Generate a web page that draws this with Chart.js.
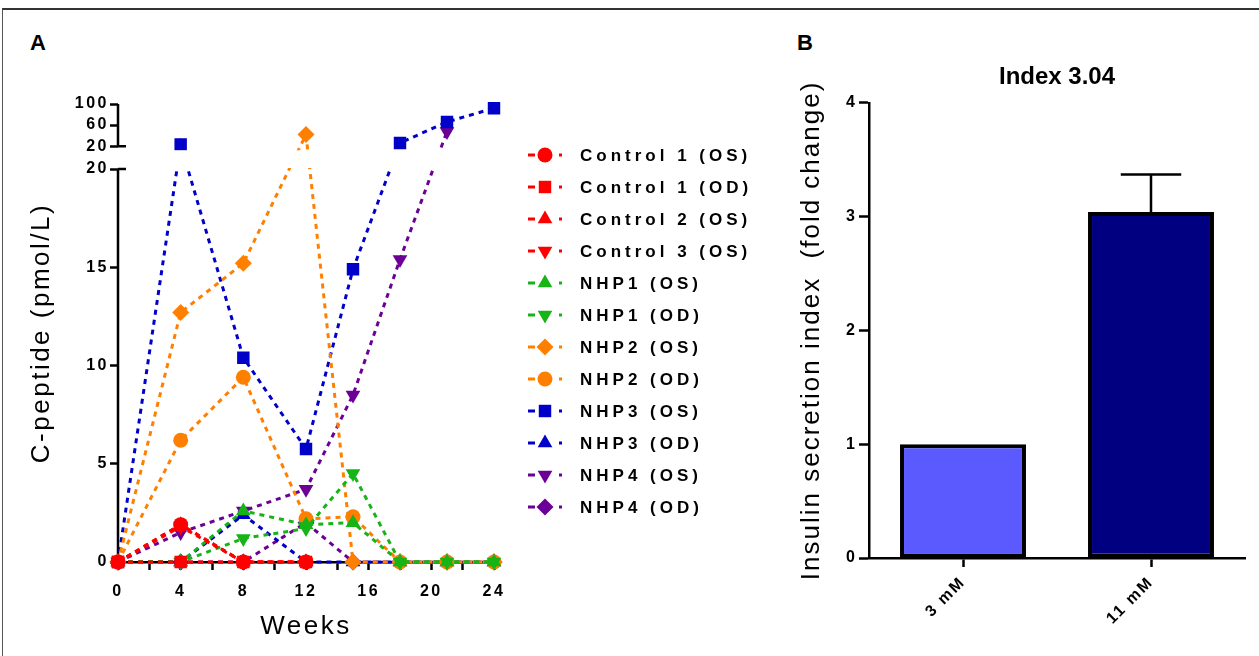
<!DOCTYPE html>
<html>
<head>
<meta charset="utf-8">
<title>C-peptide and insulin secretion index</title>
<script src="https://cdn.jsdelivr.net/npm/chart.js@4.4.1/dist/chart.umd.min.js"></script>
<style>
    html, body { margin: 0; padding: 0; background: #fff; }
    body { width: 1259px; height: 656px; position: relative; overflow: hidden; font-family: 'Liberation Sans', Arial, sans-serif; }
    .frame { position: absolute; left: 2px; top: 8px; width: 1300px; height: 700px; border-top: 2px solid #333; border-left: 1.5px solid #555; }
    .panel-letter { position: absolute; top: 32px; font-size: 22px; font-weight: bold; line-height: 1; color: #000; }
    #chartA { position: absolute; left: 0; top: 0; }
    #chartB { position: absolute; left: 760px; top: 0; }
</style>
</head>
<body>
<div class="frame"></div>
<div class="panel-letter" style="left: 30px;">A</div>
<div class="panel-letter" style="left: 797px;">B</div>
<canvas id="chartA" width="760" height="656"></canvas>
<canvas id="chartB" width="499" height="656"></canvas>

<script>
const FONT = "'Liberation Sans', Arial, sans-serif";

// Panel A: C-peptide per eye over time
const WEEKS = [0, 4, 8, 12, 15, 18, 21, 24];

const control1OS = [0, 1.9, 0, 0, null, null, null, null];
const control1OD = [0, 0, 0, 0, null, null, null, null];
const control2OS = [0, 1.9, 0, 0, null, null, null, null];
const control3OS = [0, 1.8, 0, 0, null, null, null, null];
const nhp1OS = [0, 0, 2.6, 1.9, 2.0, 0, 0, 0];
const nhp1OD = [0, 0, 1.2, 1.7, 4.5, 0, 0, 0];
const nhp2OS = [0, 12.7, 15.2, 42, 0, 0, 0, 0];
const nhp2OD = [0, 6.2, 9.4, 2.2, 2.3, 0, 0, 0];
const nhp3OS = [0, 23, 10.4, 5.75, 14.9, 26, 66, 92];
const nhp3OD = [0, 0, 2.4, 0, 0, 0, 0, 0];
const nhp4OS = [0, 1.5, 2.6, 3.7, 8.5, 15.4, 48, null];
const nhp4OD = [0, 0, 0, 2.0, 0, 0, 0, 0];

const SERIES_NAMES = [
    'Control 1 (OS)', 'Control 1 (OD)', 'Control 2 (OS)', 'Control 3 (OS)',
    'NHP1 (OS)', 'NHP1 (OD)', 'NHP2 (OS)', 'NHP2 (OD)',
    'NHP3 (OS)', 'NHP3 (OD)', 'NHP4 (OS)', 'NHP4 (OD)'
];
const SERIES_VALUES = [
    control1OS, control1OD, control2OS, control3OS,
    nhp1OS, nhp1OD, nhp2OS, nhp2OD,
    nhp3OS, nhp3OD, nhp4OS, nhp4OD
];
const SERIES_COLORS = [
    '#ff0000', '#ff0000', '#ff0000', '#ff0000',
    '#16b416', '#16b416', '#ff8000', '#ff8000',
    '#0000c8', '#0000c8', '#6c0096', '#6c0096'
];
const SERIES_MARKERS = [
    'circle', 'square', 'triangle', 'triangleDown',
    'triangle', 'triangleDown', 'diamond', 'circle',
    'square', 'triangle', 'triangleDown', 'diamond'
];

const Y_TICKS_LOW = [0, 5, 10, 15, 20];
const Y_TICKS_HIGH = [20, 60, 100];

// Panel B: insulin secretion index
const GLUCOSE_LABELS = ['3 mM', '11 mM'];
const INDEX_VALUES = [1.0, 3.04];
const INDEX_ERRORS = [0, 0.33];
const BAR_COLORS = ['#5a5aff', '#000080'];

// styling / layout
const MARKERS = {
    circle: { pointStyle: 'circle', rotation: 0, radius: 7.5 },
    square: { pointStyle: 'rect', rotation: 0, radius: 8.8 },
    triangle: { pointStyle: 'triangle', rotation: 0, radius: 8.5 },
    triangleDown: { pointStyle: 'triangle', rotation: 180, radius: 8.5 },
    diamond: { pointStyle: 'rectRot', rotation: 0, radius: 8.5 }
};
const BREAK_AT = 20;
const Y_MAX = 100;
const LOWER_SHARE = 0.858;
const GAP_SHARE = 0.05;
const LEGEND_TOP = 155;
const LEGEND_STEP = 32;

// y scale with a break: 0-20 on the long lower part, 20-100 squeezed on top
class BrokenLinearScale extends Chart.LinearScale {
    lowerTop() {
        return this.bottom - (this.bottom - this.top) * LOWER_SHARE;
    }
    upperBottom() {
        return this.lowerTop() - (this.bottom - this.top) * GAP_SHARE;
    }
    upperPixel(value) {
        const base = this.upperBottom();
        return base - (value - BREAK_AT) / (Y_MAX - BREAK_AT) * (base - this.top);
    }
    getPixelForValue(value) {
        if (value === null || value === undefined || isNaN(value)) return NaN;
        if (value <= BREAK_AT) {
            return this.bottom - value / BREAK_AT * (this.bottom - this.lowerTop());
        }
        return this.upperPixel(value);
    }
    getPixelForTick(index) {
        const tick = this.ticks[index];
        if (!tick) return NaN;
        return tick.upper ? this.upperPixel(tick.value) : this.getPixelForValue(tick.value);
    }
    getValueForPixel(pixel) {
        const low = this.lowerTop();
        if (pixel >= low) return (this.bottom - pixel) / (this.bottom - low) * BREAK_AT;
        const base = this.upperBottom();
        return BREAK_AT + (base - pixel) / (base - this.top) * (Y_MAX - BREAK_AT);
    }
}
BrokenLinearScale.id = 'brokenLinear';
BrokenLinearScale.defaults = {};
Chart.register(BrokenLinearScale);

function buildLineDatasets() {
    return SERIES_NAMES.map((name, i) => {
        const m = MARKERS[SERIES_MARKERS[i]];
        return {
            label: name,
            data: WEEKS.map((w, j) => ({ x: w, y: SERIES_VALUES[i][j] })),
            borderColor: SERIES_COLORS[i],
            backgroundColor: SERIES_COLORS[i],
            pointBackgroundColor: SERIES_COLORS[i],
            pointBorderColor: SERIES_COLORS[i],
            pointBorderWidth: 0,
            pointStyle: m.pointStyle,
            pointRotation: m.rotation,
            pointRadius: m.radius,
            borderWidth: 3,
            borderDash: [5, 5],
            fill: false,
            tension: 0,
            clip: false
        };
    });
}

const spacingA = {
    id: 'spacingA',
    beforeLayout(chart) { chart.ctx.letterSpacing = '2.5px'; },
    beforeDraw(chart) { chart.ctx.letterSpacing = '2.5px'; }
};

// draws the two axis pieces and hides lines inside the break
const brokenAxis = {
    id: 'brokenAxis',
    beforeDatasetsDraw(chart) {
        const ctx = chart.ctx;
        const y = chart.scales.y;
        const x = chart.chartArea.left;
        const lowTop = y.getPixelForValue(BREAK_AT);
        const upBottom = y.upperPixel(BREAK_AT);

        ctx.save();
        ctx.strokeStyle = '#000';
        ctx.lineWidth = 2.5;
        ctx.beginPath();
        ctx.moveTo(x, y.getPixelForValue(0) + 1.25);
        ctx.lineTo(x, lowTop);
        ctx.moveTo(x, upBottom);
        ctx.lineTo(x, y.top);
        ctx.moveTo(x, lowTop);
        ctx.lineTo(x + 8, lowTop);
        ctx.moveTo(x, upBottom);
        ctx.lineTo(x + 8, upBottom);
        ctx.stroke();
        ctx.restore();

        ctx.save();
        ctx.beginPath();
        ctx.rect(0, 0, chart.width, upBottom + 4);
        ctx.rect(0, lowTop - 1, chart.width, chart.height - lowTop + 1);
        ctx.clip();
    },
    afterDatasetsDraw(chart) {
        chart.ctx.restore();
    }
};

const sideLegend = {
    id: 'sideLegend',
    afterDraw(chart) {
        const ctx = chart.ctx;
        const x0 = chart.chartArea.right + 34;
        ctx.save();
        ctx.letterSpacing = '4px';
        ctx.font = 'bold 17px ' + FONT;
        ctx.textBaseline = 'middle';
        ctx.textAlign = 'left';
        chart.data.datasets.forEach((ds, i) => {
            const y = LEGEND_TOP + i * LEGEND_STEP;
            ctx.strokeStyle = ds.borderColor;
            ctx.fillStyle = ds.borderColor;
            ctx.lineWidth = 3;
            ctx.beginPath();
            ctx.moveTo(x0, y);
            ctx.lineTo(x0 + 7, y);
            ctx.moveTo(x0 + 31, y);
            ctx.lineTo(x0 + 34, y);
            ctx.stroke();
            Chart.helpers.drawPoint(ctx, {
                pointStyle: ds.pointStyle,
                rotation: ds.pointRotation,
                radius: ds.pointRadius,
                borderWidth: 0
            }, x0 + 17, y);
            ctx.fillStyle = '#000';
            ctx.fillText(ds.label, x0 + 52, y + 1);
        });
        ctx.restore();
    }
};

function renderTimeline() {
    const tickFont = { family: FONT, size: 16, weight: 'bold' };
    const tickGrid = {
        display: true,
        drawOnChartArea: false,
        drawTicks: true,
        tickLength: 8,
        tickWidth: 2.5,
        tickColor: '#000',
        color: '#000'
    };

    new Chart(document.getElementById('chartA'), {
        type: 'line',
        data: { datasets: buildLineDatasets() },
        options: {
            responsive: false,
            animation: false,
            events: [],
            layout: { padding: { left: 20, right: 266, top: 104, bottom: 8 } },
            plugins: {
                legend: { display: false },
                tooltip: { enabled: false }
            },
            scales: {
                x: {
                    type: 'linear',
                    min: 0,
                    max: 24,
                    afterFit: s => { s.height = 86; },
                    border: { display: true, color: '#000', width: 2.5 },
                    grid: tickGrid,
                    ticks: {
                        stepSize: 2,
                        autoSkip: false,
                        maxRotation: 0,
                        padding: 12,
                        color: '#000',
                        font: tickFont,
                        callback: v => (v % 4 === 0 ? String(v) : '')
                    },
                    title: {
                        display: true,
                        text: 'Weeks',
                        color: '#000',
                        font: { family: FONT, size: 26 },
                        padding: { top: 0, bottom: 6 }
                    }
                },
                y: {
                    type: 'brokenLinear',
                    min: 0,
                    max: Y_MAX,
                    afterFit: s => { s.width = 98; },
                    afterBuildTicks: s => {
                        s.ticks = Y_TICKS_LOW.map(v => ({ value: v }))
                            .concat(Y_TICKS_HIGH.map(v => ({ value: v, upper: true })));
                    },
                    border: { display: false },
                    grid: tickGrid,
                    ticks: {
                        autoSkip: false,
                        padding: 1,
                        color: '#000',
                        font: tickFont,
                        callback: v => String(v)
                    },
                    title: {
                        display: true,
                        text: 'C-peptide (pmol/L)',
                        color: '#000',
                        font: { family: FONT, size: 26 },
                        padding: { top: 6, bottom: 0 }
                    }
                }
            }
        },
        plugins: [spacingA, brokenAxis, sideLegend]
    });
}

// error bars and text spacing for panel B
const barExtras = {
    id: 'barExtras',
    beforeLayout(chart) { chart.ctx.letterSpacing = '2px'; },
    beforeDraw(chart) { chart.ctx.letterSpacing = '0px'; },
    afterDatasetsDraw(chart) {
        const ctx = chart.ctx;
        const y = chart.scales.y;
        const meta = chart.getDatasetMeta(0);
        ctx.save();
        ctx.strokeStyle = '#000';
        ctx.lineWidth = 2.5;
        meta.data.forEach((bar, i) => {
            const err = INDEX_ERRORS[i];
            if (!err) return;
            const top = y.getPixelForValue(INDEX_VALUES[i] + err);
            const half = bar.width * 0.24;
            ctx.beginPath();
            ctx.moveTo(bar.x, bar.y);
            ctx.lineTo(bar.x, top);
            ctx.moveTo(bar.x - half, top);
            ctx.lineTo(bar.x + half, top);
            ctx.stroke();
        });
        ctx.restore();
        ctx.letterSpacing = '2px';
    }
};

function renderIndexChart() {
    const tickFont = { family: FONT, size: 16, weight: 'bold' };
    const gridOpts = {
        display: true,
        drawOnChartArea: false,
        drawTicks: true,
        offset: false,
        tickLength: 9,
        tickWidth: 2.5,
        tickColor: '#000',
        color: '#000',
        z: 1
    };

    new Chart(document.getElementById('chartB'), {
        type: 'bar',
        data: {
            labels: GLUCOSE_LABELS,
            datasets: [{
                data: INDEX_VALUES,
                backgroundColor: BAR_COLORS,
                borderColor: '#000',
                borderWidth: 4,
                borderSkipped: false,
                barPercentage: 0.67,
                categoryPercentage: 1
            }]
        },
        options: {
            responsive: false,
            animation: false,
            events: [],
            layout: { padding: { left: 30, right: 14, top: 50, bottom: 8 } },
            plugins: {
                legend: { display: false },
                tooltip: { enabled: false },
                title: {
                    display: true,
                    text: 'Index 3.04',
                    fullSize: false,
                    color: '#000',
                    font: { family: FONT, size: 24, weight: 'bold' },
                    padding: { top: 13, bottom: 11 }
                }
            },
            scales: {
                x: {
                    afterFit: s => { s.height = 90; },
                    border: { display: true, color: '#000', width: 2.5, z: 1 },
                    grid: gridOpts,
                    ticks: {
                        minRotation: 45,
                        maxRotation: 45,
                        padding: 6,
                        color: '#000',
                        font: tickFont,
                        z: 1
                    }
                },
                y: {
                    min: 0,
                    max: 4,
                    afterFit: s => { s.width = 79; },
                    border: { display: true, color: '#000', width: 2.5, z: 1 },
                    grid: Object.assign({}, gridOpts, { tickLength: 10 }),
                    ticks: {
                        stepSize: 1,
                        padding: 2,
                        color: '#000',
                        font: tickFont,
                        z: 1
                    },
                    title: {
                        display: true,
                        text: 'Insulin secretion index  (fold change)',
                        color: '#000',
                        font: { family: FONT, size: 26 },
                        padding: { top: 6, bottom: 0 }
                    }
                }
            }
        },
        plugins: [barExtras]
    });
}

document.addEventListener('DOMContentLoaded', () => {
    renderTimeline();
    renderIndexChart();
});
</script>
</body>
</html>
